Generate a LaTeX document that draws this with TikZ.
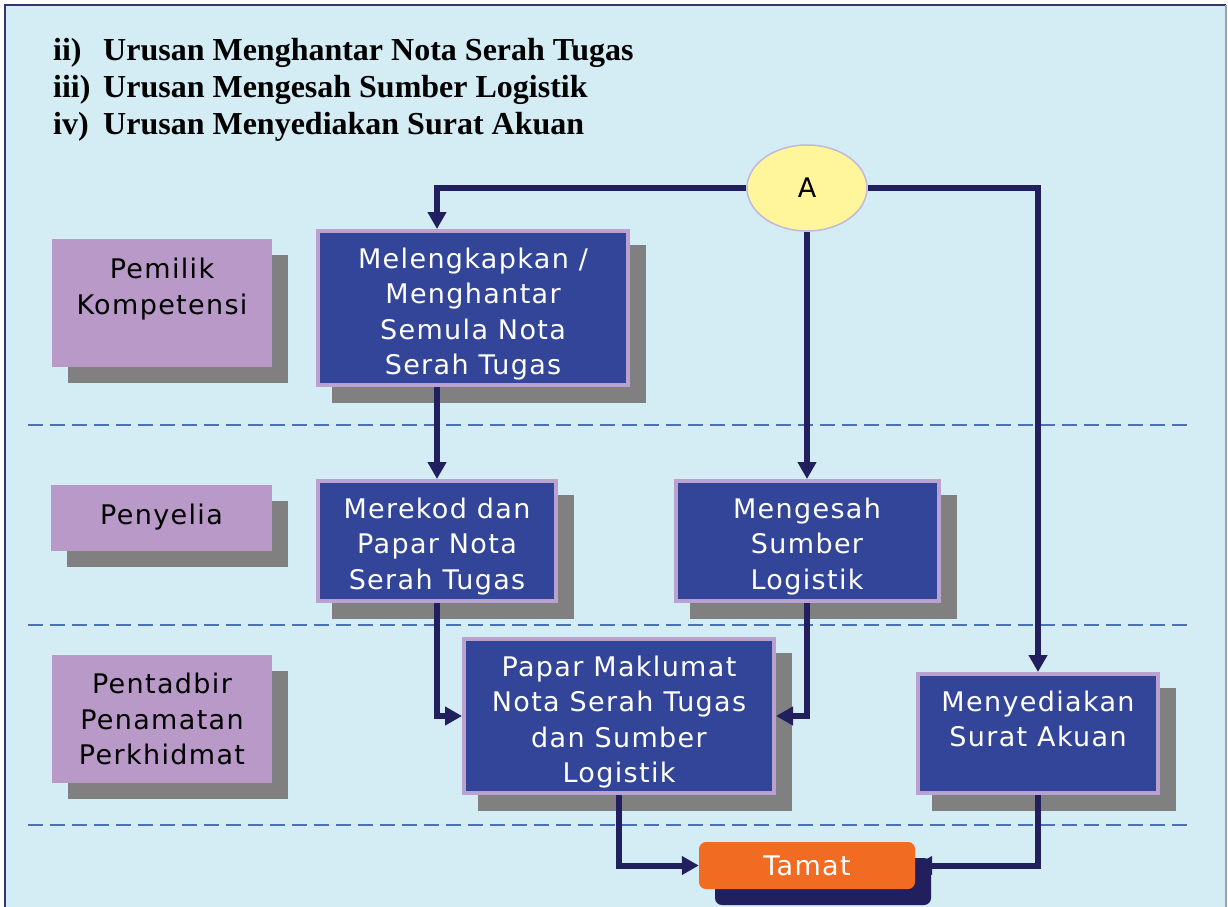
\documentclass[tikz,border=0pt]{standalone}
\usepackage{fontspec}
\setmainfont{Liberation Serif}
\newfontfamily\boxfont[LetterSpace=5]{DejaVu Sans}
\usetikzlibrary{arrows.meta,shadows,shapes.geometric}
\pgfdeclarelayer{back}
\pgfdeclarelayer{front}
\pgfsetlayers{back,main,front}
\definecolor{bgblue}{HTML}{D4ECF4}
\definecolor{frame}{HTML}{34346E}
\definecolor{navy}{HTML}{221F5E}
\definecolor{boxblue}{HTML}{334599}
\definecolor{lav}{HTML}{B9A2CF}
\definecolor{labfill}{HTML}{B899C8}
\definecolor{shgray}{HTML}{808080}
\definecolor{ellfill}{HTML}{FFF59B}
\definecolor{elldraw}{HTML}{C4B8D8}
\definecolor{orange}{HTML}{F26B22}
\definecolor{dashblue}{HTML}{4A70B5}
\newcommand{\bxt}[4]{\parbox[c][#2pt][t]{#1pt}{\centering\boxfont\fontsize{27}{35.5}\selectfont\rule{0pt}{#3pt}#4}}
\tikzset{
  x=1pt, y=-1pt,
  bluebox/.style={draw=lav, line width=4pt, fill=boxblue, inner sep=0pt, text=white,
    drop shadow={shadow xshift=16pt, shadow yshift=-16pt, fill=shgray, draw=shgray, line width=4pt, opacity=1}},
  labbox/.style={fill=labfill, inner sep=0pt, text=black,
    drop shadow={shadow xshift=16pt, shadow yshift=-16pt, fill=shgray, opacity=1}},
  conn/.style={draw=navy, line width=6pt, line join=miter, -{Triangle[length=17pt,width=18pt]}},
  lanedash/.style={draw=dashblue, line width=2.5pt, dash pattern=on 15pt off 7pt},
  titletext/.style={anchor=base west, inner sep=0pt, font=\fontsize{32}{37}\selectfont\bfseries}
}
\begin{document}
\begin{tikzpicture}
\useasboundingbox (0,0) rectangle (1228,906);
\begin{pgfonlayer}{back}
  \fill[bgblue] (5,5) rectangle (1226,920);
  \draw[frame, line width=2.5pt] (5,920) -- (5,5) -- (1226,5);
  \draw[frame!40!bgblue, line width=1.5pt] (1226,5) -- (1226,920);
  \draw[lanedash] (28,425) -- (1188,425);
  \draw[lanedash] (28,625) -- (1188,625);
  \draw[lanedash] (28,825) -- (1188,825);
\end{pgfonlayer}

% title
\node[titletext] (n2) at (53,60) {ii)};
\node[titletext] (t2) at (103,60) {Urusan Menghantar Nota Serah Tugas};
\node[titletext] (n3) at (53,97) {iii)};
\node[titletext] (t3) at (103,97) {Urusan Mengesah Sumber Logistik};
\node[titletext] (n4) at (53,134) {iv)};
\node[titletext] (t4) at (103,134) {Urusan Menyediakan Surat Akuan};

% lane labels
\node[labbox] (L1) at (162,303) {\bxt{220}{128}{39.5}{Pemilik\\Kompetensi}};
\node[labbox] (L2) at (161.5,518) {\bxt{221}{66}{39.5}{Penyelia}};
\node[labbox] (L3) at (162,719) {\bxt{220}{128}{38.5}{Pentadbir\\Penamatan\\Perkhidmat}};

% process boxes
\node[bluebox] (b1) at (473,308) {\bxt{310}{154}{37}{Melengkapkan /\\Menghantar\\Semula Nota\\Serah Tugas}};
\node[bluebox] (b2) at (437,541) {\bxt{238}{120}{37}{Merekod dan\\Papar Nota\\Serah Tugas}};
\node[bluebox] (b3) at (807,541) {\bxt{263}{120}{37}{Mengesah\\Sumber\\Logistik}};
\node[bluebox] (b4) at (619,716) {\bxt{310}{154}{37}{Papar Maklumat\\Nota Serah Tugas\\dan Sumber\\Logistik}};
\node[bluebox] (b5) at (1038,733.5) {\bxt{240}{119}{37}{Menyediakan\\Surat Akuan}};

% connector A
\node[ellipse, draw=elldraw, line width=1.5pt, fill=ellfill, minimum width=120pt, minimum height=86pt, inner sep=0pt,
      font=\boxfont\fontsize{27}{32}\selectfont] (A) at (807,188) {A};

% end node on front layer
\begin{pgfonlayer}{front}
\node[fill=orange, rounded corners=7pt, minimum width=216pt, minimum height=47pt, inner sep=0pt, text=white,
      font=\boxfont\fontsize{27}{32}\selectfont,
      drop shadow={shadow xshift=16pt, shadow yshift=-16pt, fill=navy, opacity=1}] (tamat) at (807,865.5) {Tamat};
\end{pgfonlayer}

% connectors
\draw[conn] (A.west) -| (b1.north -| b2.north);
\draw[conn] (A.east) -| (b5.north);
\draw[conn] (A.south) -- (b3.north);
\draw[conn] (b1.south -| b2.north) -- (b2.north);
\draw[conn] (b2.south) |- (b4.west);
\draw[conn] (b3.south) |- (b4.east);
\draw[conn] (b4.south) |- (tamat.west);
\draw[conn] (b5.south) |- (tamat.east);
\end{tikzpicture}
\end{document}
